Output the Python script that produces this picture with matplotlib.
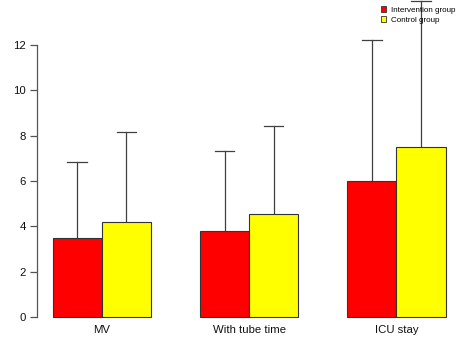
import matplotlib
matplotlib.use("Agg")
import matplotlib.pyplot as plt
from matplotlib.patches import Patch
import numpy as np

plt.rcParams['font.family'] = ['Liberation Sans', 'DejaVu Sans']

categories = ["MV", "With tube time", "ICU stay"]
series_names = ["Intervention group", "Control group"]
intervention_mean = [3.5, 3.8, 6.0]
intervention_sd = [3.34, 3.52, 6.22]
control_mean = [4.19, 4.54, 7.5]
control_sd = [3.97, 3.89, 6.45]
colors = ["#FF0000", "#FFFF00"]
yticks = [0, 2, 4, 6, 8, 10, 12]

W, H = 458, 339
fig = plt.figure(figsize=(W / 100, H / 100), dpi=100)

# pixel geometry
px_per_x = 49.1
x0_px = 37.0
xlim = (0.68, 9.32)
ax_w_px = (xlim[1] - xlim[0]) * px_per_x
px_per_y = (317 - 45) / 12.0
bottom_px = 324.0
top_px = 0.0
ylim = (-(bottom_px - 317) / px_per_y, 12 + (45 - top_px) / px_per_y)

ax = fig.add_axes([x0_px / W, 1 - bottom_px / H, ax_w_px / W, (bottom_px - top_px) / H])
ax.set_xlim(*xlim)
ax.set_ylim(*ylim)

n = len(categories)
left_red = np.array([1 + 3 * i for i in range(n)], dtype=float)
left_yel = left_red + 1

for lefts, means, sds, col in [(left_red, intervention_mean, intervention_sd, colors[0]),
                               (left_yel, control_mean, control_sd, colors[1])]:
    ax.bar(lefts, means, width=1.0, align='edge', color=col, edgecolor='#333333', linewidth=0.8, zorder=2)
    centers = lefts + 0.5
    for c, m, s in zip(centers, means, sds):
        ax.plot([c, c], [m, m + s], color='#404040', linewidth=0.9, zorder=1, clip_on=False)
        ax.plot([c - 0.2, c + 0.2], [m + s, m + s], color='#404040', linewidth=0.9, zorder=1, clip_on=False)

for sp in ['top', 'right', 'bottom']:
    ax.spines[sp].set_visible(False)
ax.spines['left'].set_bounds(0, 12)
ax.spines['left'].set_color('#555555')
ax.spines['left'].set_linewidth(0.9)
ax.set_yticks(yticks)
ax.set_yticklabels([str(t) for t in yticks], fontsize=8.2, color='#111111')
ax.tick_params(axis='y', length=5, width=0.9, color='#555555', pad=3)
ax.set_xticks(left_red + 1.0)
ax.set_xticklabels(categories, fontsize=8.2, color='#111111')
ax.tick_params(axis='x', length=0, pad=1)

handles = [Patch(facecolor=colors[0], edgecolor='#333333', linewidth=0.6),
           Patch(facecolor=colors[1], edgecolor='#333333', linewidth=0.6)]
fig.legend(handles, series_names, loc='upper left', bbox_to_anchor=(375 / W, 1 - 0.5 / H),
           frameon=False, fontsize=5.8, handlelength=0.7, handleheight=0.7,
           handletextpad=0.6, labelspacing=0.3, borderpad=0.2)

fig.savefig("out.png", dpi=100)
